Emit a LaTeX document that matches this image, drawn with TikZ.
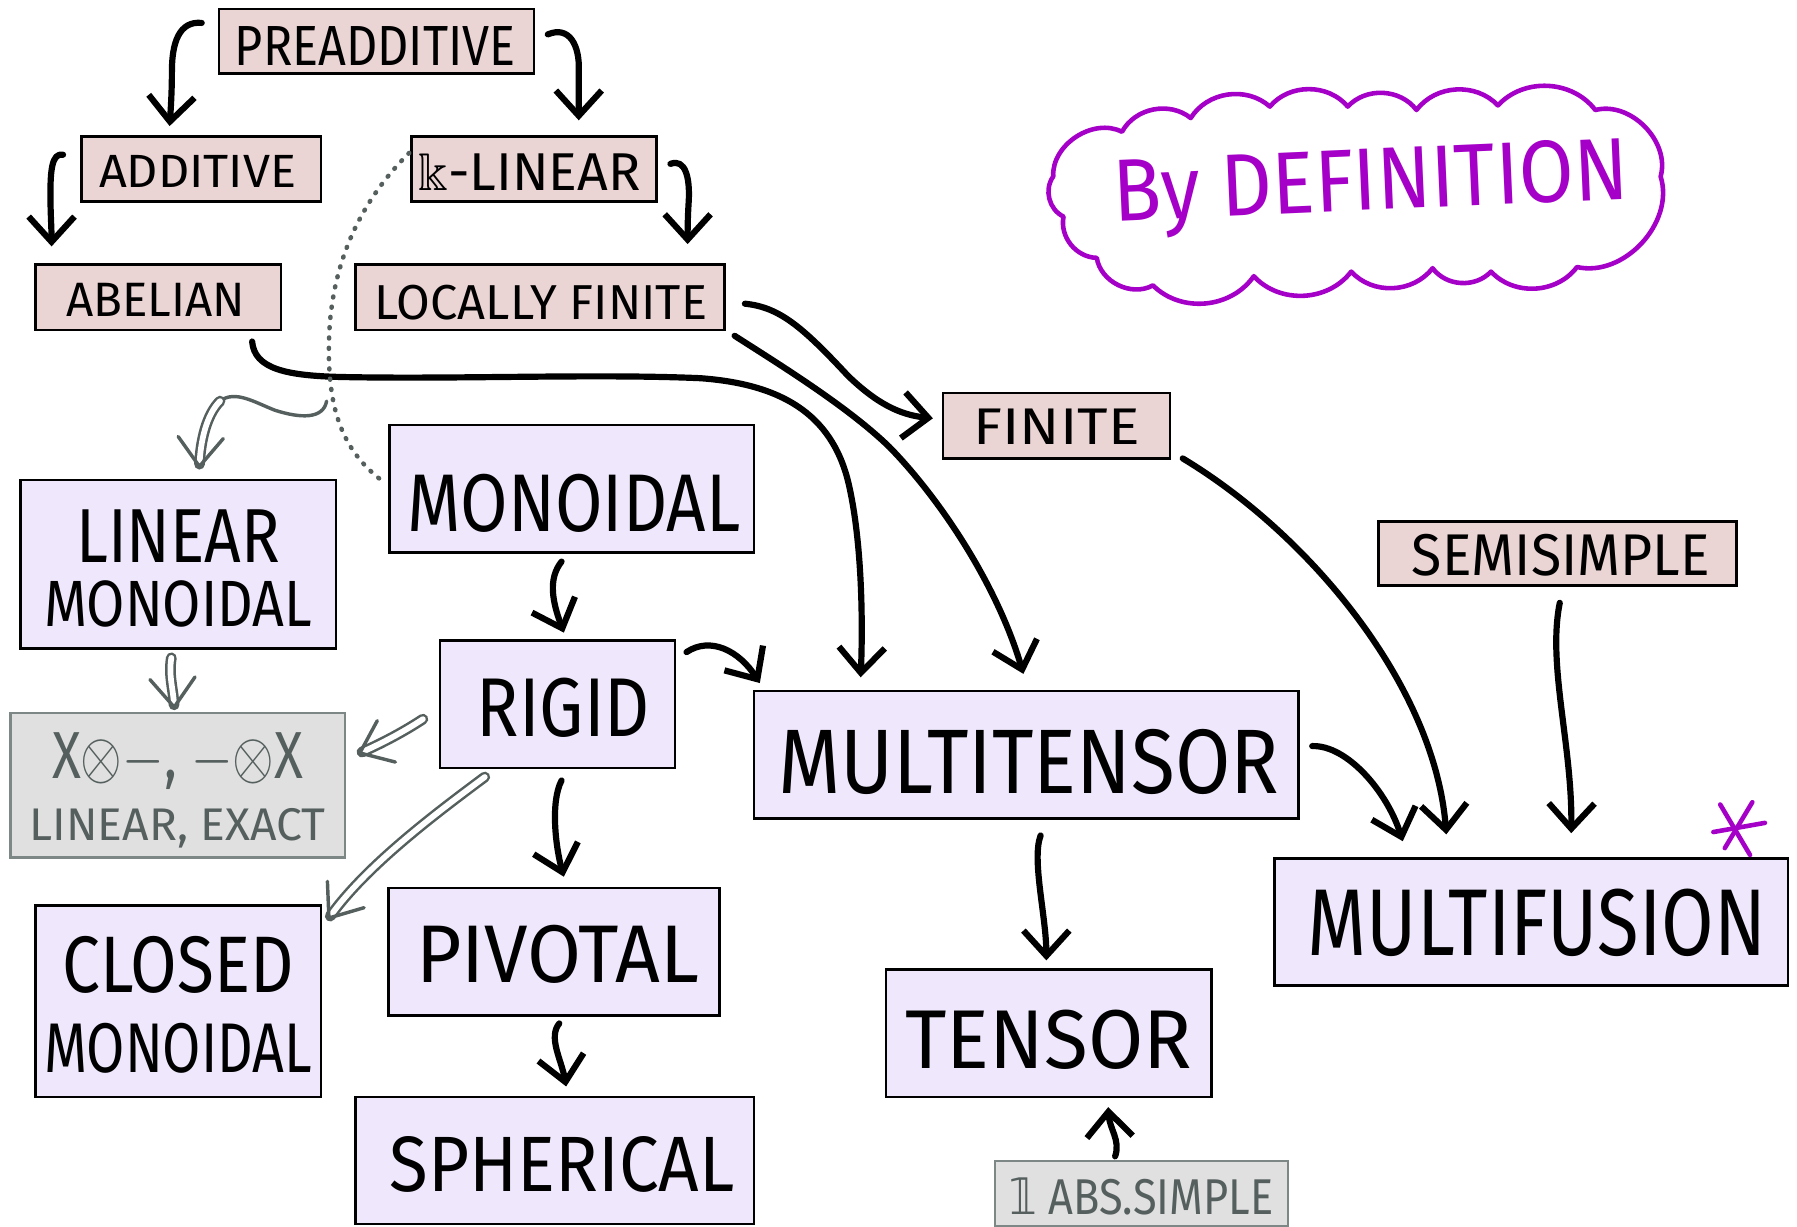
\documentclass[tikz,border=0pt]{standalone}
\usepackage{fontspec}
\setmainfont{Fira Sans}
\newfontfamily\dejavu{DejaVu Sans}
\usepackage{amssymb}
\usepackage{graphicx}
\usetikzlibrary{arrows.meta,calc}

\definecolor{boxpink}{HTML}{EBD4D4}
\definecolor{boxlav}{HTML}{EFE7FB}
\definecolor{boxgray}{HTML}{E1E0E1}
\definecolor{edgegray}{HTML}{7D8785}
\definecolor{inkgray}{HTML}{55605E}
\definecolor{inkmag}{HTML}{A400C8}

% label scaled to width #3 and cap height #4, shifted by kern #1 (twice the x offset) and raised by #2
\newcommand\lbl[5]{\kern#1pt\raisebox{#2pt}[#4pt][0pt]{\resizebox{#3pt}{#4pt}{#5}}}
% two stacked scaled lines, gap #7 between first baseline and second cap line
\newcommand\twolbl[7]{\vbox{\offinterlineskip\halign{\hfil##\hfil\cr
  \raisebox{0pt}[#2pt][0pt]{\resizebox{#1pt}{#2pt}{#3}}\cr\noalign{\vskip#7pt}
  \raisebox{0pt}[#5pt][0pt]{\resizebox{#4pt}{#5pt}{#6}}\cr}}}
% open V head at tip #1, opening back towards point #2
\newcommand\grayvee[2]{\draw[grayline] ($(#1)!32pt!38:(#2)$) -- (#1) -- ($(#1)!32pt!-38:(#2)$);}

\tikzset{
  catbox/.style={draw=black, line width=2.2pt, inner sep=0pt, outer sep=0pt},
  pinkbox/.style={catbox, fill=boxpink},
  lavbox/.style={catbox, fill=boxlav},
  graybox/.style={catbox, draw=edgegray, fill=boxgray, text=inkgray},
  ink/.style={line width=5.4pt, line cap=round, line join=round,
    -{Straight Barb[length=22pt,width=40pt]}},
  grayline/.style={draw=inkgray, line width=3pt, line cap=round, line join=round},
  grayshaft/.style={draw=inkgray, line width=2.2pt, double=white, double distance=5pt,
    line cap=round, shorten >=2pt},
  dotted link/.style={draw=inkgray, line width=4pt, line cap=round,
    dash pattern=on 0.8pt off 8.2pt},
  cloudline/.style={draw=inkmag, line width=4pt, line join=round, line cap=round},
}

\begin{document}
\begin{tikzpicture}[x=1pt,y=-1pt]
\useasboundingbox (0,0) rectangle (1568,1070);

% ---- categories: additive side ----
\node[pinkbox, minimum width=275pt, minimum height=56pt] (pre) at (328.5,36) {\lbl{-2}{-4}{245}{34}{PREADDITIVE}};
\node[pinkbox, minimum width=209pt, minimum height=57pt] (add) at (175.5,147.5) {\lbl{-6}{-2.5}{172}{28}{ADDITIVE}};
\node[pinkbox, minimum width=214pt, minimum height=57pt] (abel) at (138,259.5) {\lbl{-4}{-2}{156}{29}{ABELIAN}};
\node[pinkbox, minimum width=214pt, minimum height=57pt] (klin) at (466,147.5) {\lbl{-8}{-2.5}{194}{32}{$\Bbbk$-LINEAR}};
\node[pinkbox, minimum width=322pt, minimum height=57pt] (locfin) at (471,259.5) {\lbl{2}{-4.5}{290}{30}{LOCALLY FINITE}};
\node[pinkbox, minimum width=198pt, minimum height=57pt] (fin) at (922,371.5) {\lbl{0}{-1}{145}{31}{FINITE}};
\node[pinkbox, minimum width=312pt, minimum height=56pt] (semi) at (1359,483) {\lbl{6}{-1}{260}{36}{SEMISIMPLE}};

% ---- categories: monoidal side ----
\node[lavbox, minimum width=275pt, minimum height=147pt] (linmon) at (155.5,492.5)
  {\raisebox{-3.5pt}[\height][0pt]{\twolbl{178}{46}{LINEAR}{234}{40}{MONOIDAL}{16}}};
\node[lavbox, minimum width=318pt, minimum height=111pt] (mon) at (499,426.5) {\lbl{4}{-12.5}{290}{50}{MONOIDAL}};
\node[lavbox, minimum width=205pt, minimum height=111pt] (rigid) at (486.5,614.5) {\lbl{10}{-3}{151}{51}{RIGID}};
\node[graybox, minimum width=292pt, minimum height=126pt] (xten) at (155,685)
  {\raisebox{-1.5pt}[\height][0pt]{\twolbl{219}{40}{X$\otimes$$-$, $-$$\otimes$X}{258}{28}{LINEAR, EXACT}{26}}};
\node[lavbox, minimum width=475pt, minimum height=111pt] (mt) at (895.5,658.5) {\lbl{4}{-5.5}{437}{56}{MULTITENSOR}};
\node[lavbox, minimum width=249pt, minimum height=167pt] (closed) at (155.5,873.5)
  {\raisebox{-3pt}[\height][0pt]{\twolbl{202}{49}{CLOSED}{234}{43}{MONOIDAL}{27}}};
\node[lavbox, minimum width=289pt, minimum height=111pt] (piv) at (483.5,830.5) {\lbl{6}{-1.5}{247}{50}{PIVOTAL}};
\node[lavbox, minimum width=348pt, minimum height=111pt] (sph) at (484,1012.5) {\lbl{13}{-3.5}{301}{48}{SPHERICAL}};
\node[lavbox, minimum width=284pt, minimum height=111pt] (tensor) at (915,901.5) {\lbl{0}{-5}{250}{51}{TENSOR}};
\node[graybox, minimum width=256pt, minimum height=57pt] (abs) at (996,1041.5) {\lbl{0}{-2.5}{230}{32}{{\dejavu 𝟙} ABS.SIMPLE}};
\node[lavbox, minimum width=448pt, minimum height=111pt] (mf) at (1336,804.5) {\lbl{10}{0}{400}{58}{MULTIFUSION}};

% ---- implications ----
\draw[ink] ($(pre.west)+(-15,-16)$) .. controls (156,18) and (150,38) .. (150,62)
  .. controls (150,80) and (149,95) .. ($(add.north)+(-27.5,-9)$);
\draw[ink] ($(pre.east)+(12,-6)$) .. controls (497,22) and (506,40) .. (505,62)
  .. controls (505,80) and (505,92) .. ($(klin.north)+(39,-14)$);
\draw[ink] ($(add.west)+(-16,-12.5)$) .. controls (45,133) and (44,150) .. (44,170)
  .. controls (44,185) and (45,200) .. ($(abel.north)+(-93,-16)$);
\draw[ink] ($(klin.east)+(12,-4.5)$) .. controls (598,138) and (602,155) .. (601,175)
  .. controls (600,190) and (600,200) .. ($(locfin.north)+(129,-18)$);
\draw[ink] ($(locfin.east)+(18,5.5)$) .. controls (680,268) and (700,285) .. (740,328)
  .. controls (765,352) and (785,362) .. ($(fin.west)+(-9,-6.5)$);
\draw[ink] ($(locfin.south east)+(9,5)$) .. controls (680,318) and (740,355) .. (776,390)
  .. controls (820,435) and (870,510) .. ($(mt.north)+(-2.5,-15)$);
\draw[ink] ($(abel.south)+(82,10)$) .. controls (222,322) and (250,328) .. (300,329)
  .. controls (400,331) and (520,326) .. (611,330)
  .. controls (680,335) and (725,360) .. (740,420)
  .. controls (752,470) and (753,540) .. ($(mt.north west)+(93,-12)$);
\draw[ink] ($(fin.south east)+(11,0)$) .. controls (1145,468) and (1252,600) .. ($(mf.north west)+(150,-21)$);
\draw[ink] ($(semi.south)+(2,15)$) .. controls (1350,580) and (1372,650) .. ($(mf.north)+(35,-22)$);
\draw[ink] ($(mt.east)+(12,-7.5)$) .. controls (1175,650) and (1210,690) .. ($(mf.north west)+(112,-15)$);
\draw[ink] ($(mon.south)+(-9,8)$) .. controls (478,505) and (482,525) .. ($(rigid.north)+(5.5,-7)$);
\draw[ink] ($(rigid.north east)+(10,10)$) .. controls (620,555) and (645,568) .. ($(mt.north west)+(5,-7)$);
\draw[ink] ($(rigid.south)+(3.5,11)$) .. controls (480,700) and (485,740) .. ($(piv.north)+(8.5,-10)$);
\draw[ink] ($(piv.south)+(4.5,7)$) .. controls (478,905) and (490,925) .. ($(sph.north)+(10,-9)$);
\draw[ink] ($(mt.south)+(12.5,15)$) .. controls (900,750) and (913,800) .. ($(tensor.north)+(-2,-8)$);
\draw[ink] ($(abs.north)+(-23,-4)$) .. controls (978,995) and (968,985) .. ($(tensor.south)+(52,9)$);

% ---- weaker consequences ----
\draw[dotted link] ($(klin.west)+(-2,-14)$) .. controls (315,175) and (288,230) .. (287,300)
  .. controls (286,360) and (300,395) .. ($(mon.west)+(-4,-5)$);
\coordinate (dotpt) at (285,350);
\coordinate (wavebend) at (192,350);
\draw[grayline] (dotpt) .. controls (282,366) and (262,365) .. (240,358)
  .. controls (222,351) and (205,340) .. (wavebend);
% tips of the double arrows
\coordinate (tipA) at ($(linmon.north)+(18.5,-12)$);
\coordinate (tipB) at ($(xten.north)+(-3,-5)$);
\coordinate (tipC) at ($(xten.east)+(13,-28)$);
\coordinate (tipD) at ($(closed.north east)+(7,11)$);
\draw[grayshaft] (wavebend) .. controls (180,362) and (175,385) .. (tipA);
\grayvee{tipA}{175,385}
\draw[grayshaft] ($(linmon.south)+(-6,8)$) .. controls (147,590) and (151,600) .. (tipB);
\grayvee{tipB}{151,600}
\draw[grayshaft] ($(rigid.west)+(-15,13)$) .. controls (350,640) and (330,650) .. (tipC);
\grayvee{tipC}{330,650}
\draw[grayshaft] ($(rigid.south west)+(39,8)$) .. controls (380,710) and (320,755) .. (tipD);
\grayvee{tipD}{320,755}

% ---- the cloud ----
\draw[cloudline] (919,154) to[bend left=60] (979,115) to[bend left=50] (1039,103)
  to[bend left=50] (1108,93) to[bend left=50] (1176,93) to[bend left=50] (1236,96)
  to[bend left=50] (1307,92) to[bend left=50] (1392,96) to[bend left=60] (1449,154)
  to[bend left=60] (1376,233) to[bend left=50] (1301,237) to[bend left=50] (1250,234)
  to[bend left=50] (1179,237) to[bend left=50] (1094,241) to[bend left=50] (1006,249)
  to[bend left=55] (957,225) to[bend left=50] (928,189) to[bend left=50] cycle;
\node[text=inkmag, anchor=base west, rotate=2.5, inner sep=0pt] (bydef) at (972,193)
  {\resizebox{450pt}{54pt}{By DEFINITION}};

% ---- asterisk on multifusion ----
\draw[cloudline] (1501,702) -- (1527,746);
\draw[cloudline] (1495,726) -- (1540,718);
\draw[cloudline] (1529,700) -- (1505,740);
\end{tikzpicture}
\end{document}
